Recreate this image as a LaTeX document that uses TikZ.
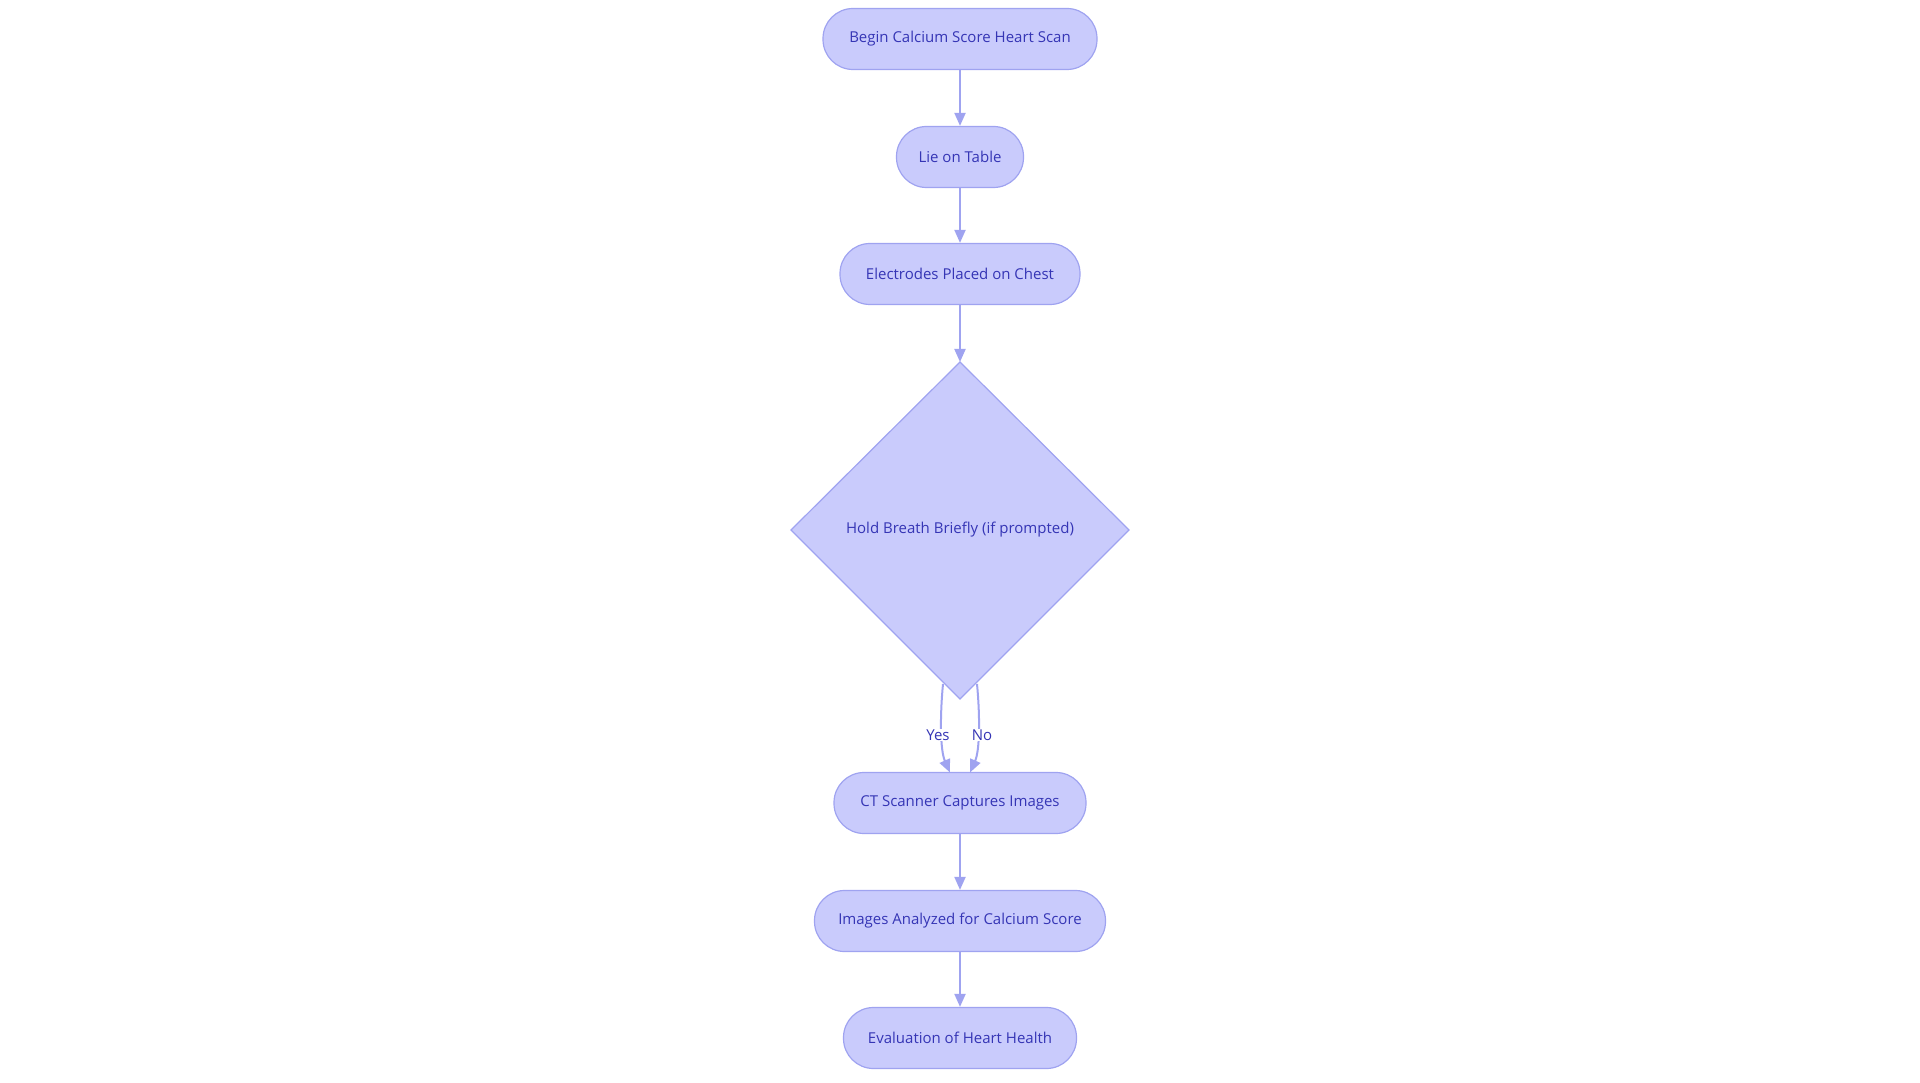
\documentclass[tikz,border=0pt]{standalone}
\usepackage{fontspec}
\setmainfont{Open Sans}
\usetikzlibrary{shapes.geometric,arrows.meta}
\definecolor{nfill}{HTML}{C9CBFC}
\definecolor{nline}{HTML}{9FA3F0}
\definecolor{ntext}{HTML}{3535B5}
\tikzset{
 stepbox/.style={draw=nline,fill=nfill,line width=1.2pt,rounded corners=30pt,minimum height=61pt,text=ntext,font=\fontsize{15}{18}\selectfont,inner xsep=0pt},
 conn/.style={draw=nline,line width=2pt,-{Triangle[length=13pt,width=11pt]}},
 lbl/.style={text=ntext,font=\fontsize{15}{18}\selectfont,fill=white,inner sep=1pt}
}
\begin{document}
\begin{tikzpicture}[x=1pt,y=-1pt]
\useasboundingbox (0,0) rectangle (1920,1083);
\node[stepbox,minimum width=274pt] (a) at (960,39) {Begin Calcium Score Heart Scan};
\node[stepbox,minimum width=127pt] (b) at (960,157) {Lie on Table};
\node[stepbox,minimum width=240pt] (c) at (960,274) {Electrodes Placed on Chest};
\draw[draw=nline,fill=nfill,line width=1.2pt] (960,362) -- (1129,530) -- (960,699) -- (791,530) -- cycle;
\coordinate (dt) at (960,362);
\node[text=ntext,font=\fontsize{15}{18}\selectfont] (d) at (960,530) {Hold Breath Briefly (if prompted)};
\node[stepbox,minimum width=252pt] (e) at (960,803) {CT Scanner Captures Images};
\node[stepbox,minimum width=291pt] (f) at (960,921) {Images Analyzed for Calcium Score};
\node[stepbox,minimum width=233pt] (g) at (960,1038) {Evaluation of Heart Health};
\coordinate (y0) at (943,684);
\coordinate (n0) at (977,684);
\draw[conn] (a) -- (b);
\draw[conn] (b) -- (c);
\draw[conn] (c) -- (dt);
\draw[conn] (y0) .. controls (940,715) and (940,750) .. (950,772.5);
\draw[conn] (n0) .. controls (980,715) and (980,750) .. (970,772.5);
\node[lbl] (yl) at (938,735) {Yes};
\node[lbl] (nl) at (982,735) {No};
\draw[conn] (e) -- (f);
\draw[conn] (f) -- (g);
\end{tikzpicture}
\end{document}
